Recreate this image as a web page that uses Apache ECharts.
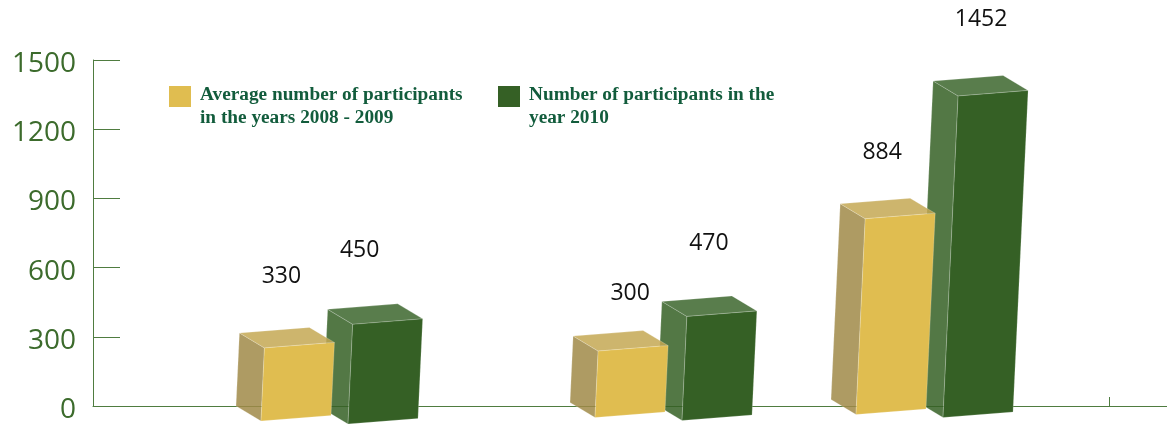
<!DOCTYPE html>
<html>
<head>
<meta charset="utf-8">
<style>html,body{margin:0;padding:0;background:#fff}#chart{width:1167px;height:424px}</style>
<script src="https://cdn.jsdelivr.net/npm/echarts@6/dist/echarts.min.js"></script>
</head>
<body>
<div id="chart"></div>
<script>
// Participant counts per group
const averageName = 'Average number of participants\nin the years 2008 - 2009';
const yearName = 'Number of participants in the\nyear 2010';
const averageValues = [330, 300, 884];
const yearValues = [450, 470, 1452];
const yTicks = [0, 300, 600, 900, 1200, 1500];

// Layout of the hand-placed groups, in x-axis units and pixels
const groupX = [168, 502, 763];
const groupLift = [0, 3.5, 6.5];
const averageLabelShift = [[42, -56.5], [57, -42.5], [42, -51.5]];
const yearLabelShift = [[32, -58.5], [47, -57.5], [48, -61.5]];

const chart = echarts.init(document.getElementById('chart'), null, { renderer: 'canvas' });

// Draws one box in oblique projection: front, left side and top faces
function boxRenderer(faces, xOffset, dropOffset, labelShift) {
  const frontW = 70, slope = 5.5, depthX = 25, depthY = 15, lean = 0.047, shrink = 0.96;
  return function (params, api) {
    const i = params.dataIndex;
    const value = api.value(1);
    const base = api.coord([api.value(0), 0]);
    const top = api.coord([api.value(0), value]);
    const h = (base[1] - top[1]) * shrink;
    const bx = base[0] + xOffset;
    const by = base[1] + dropOffset - groupLift[i];
    const bl = [bx, by];
    const br = [bx + frontW, by - slope];
    const tl = [bx + h * lean, by - h];
    const tr = [tl[0] + frontW, tl[1] - slope];
    const back = p => [p[0] - depthX, p[1] - depthY];
    const edge = { stroke: 'rgba(255,255,255,0.25)', lineWidth: 0.8 };
    const face = (pts, fill) => ({
      type: 'polygon',
      shape: { points: pts },
      style: Object.assign({ fill }, edge)
    });
    const corner = back(tl);
    return {
      type: 'group',
      children: [
        face([back(bl), bl, tl, back(tl)], faces.side),
        face([back(tl), tl, tr, back(tr)], faces.top),
        face([bl, br, tr, tl], faces.front),
        {
          type: 'text',
          style: {
            text: String(value),
            x: corner[0] + labelShift[i][0],
            y: corner[1] + labelShift[i][1],
            align: 'center',
            verticalAlign: 'middle',
            fill: '#111111',
            font: '23px "Open Sans"'
          }
        }
      ]
    };
  };
}

// Legend text sits below the swatch centre: a short blank first line pushes it down
const legendText = {
  color: '#125c3c',
  fontFamily: 'Liberation Serif',
  fontWeight: 'bold',
  fontSize: 19.3,
  padding: [0, 0, 0, 4],
  rich: {
    gap: { lineHeight: 20, fontSize: 12 },
    t: {
      color: '#125c3c',
      fontFamily: 'Liberation Serif',
      fontWeight: 'bold',
      fontSize: 19.3,
      lineHeight: 23
    }
  }
};
const legendFormat = name =>
  '{gap| }\n' + name.split('\n').map(line => '{t|' + line + '}').join('\n');

chart.setOption({
  animation: false,
  grid: { left: 93, right: 0, top: 60, bottom: 18 },
  legend: [
    {
      data: [averageName], left: 169, top: 67.5, icon: 'rect', itemWidth: 22, itemHeight: 21,
      selectedMode: false, textStyle: legendText, padding: 0, formatter: legendFormat
    },
    {
      data: [yearName], left: 498, top: 67.5, icon: 'rect', itemWidth: 22, itemHeight: 21,
      selectedMode: false, textStyle: legendText, padding: 0, formatter: legendFormat
    }
  ],
  xAxis: {
    type: 'value', min: 0, max: 1074,
    axisLine: { show: true, lineStyle: { color: '#4f7c40', width: 1 } },
    axisTick: { show: true, inside: true, length: 9, customValues: [1016], lineStyle: { color: '#4f7c40' } },
    axisLabel: { show: false },
    splitLine: { show: false }
  },
  yAxis: {
    type: 'value', min: yTicks[0], max: yTicks[yTicks.length - 1], interval: yTicks[1] - yTicks[0],
    axisLine: { show: true, lineStyle: { color: '#4f7c40', width: 1 } },
    axisTick: { show: true, inside: true, length: 27, lineStyle: { color: '#4f7c40' } },
    axisLabel: {
      margin: 17,
      formatter: v => '{t|' + v + '}',
      rich: { t: { color: '#3c6b2c', fontFamily: 'Open Sans', fontSize: 28, padding: [8, 0, 0, 0] } }
    },
    splitLine: { show: false }
  },
  series: [
    {
      name: yearName,
      type: 'custom',
      itemStyle: { color: '#356025' },
      renderItem: boxRenderer(
        { front: '#356025', side: 'rgba(53,96,37,0.85)', top: 'rgba(53,96,37,0.82)' },
        87, 18, yearLabelShift
      ),
      data: yearValues.map((v, i) => [groupX[i], v])
    },
    {
      name: averageName,
      type: 'custom',
      itemStyle: { color: '#e0bd50' },
      renderItem: boxRenderer(
        { front: '#e0bd50', side: 'rgba(160,138,72,0.85)', top: 'rgba(196,168,84,0.85)' },
        0, 15, averageLabelShift
      ),
      data: averageValues.map((v, i) => [groupX[i], v])
    }
  ]
});
</script>
</body>
</html>
